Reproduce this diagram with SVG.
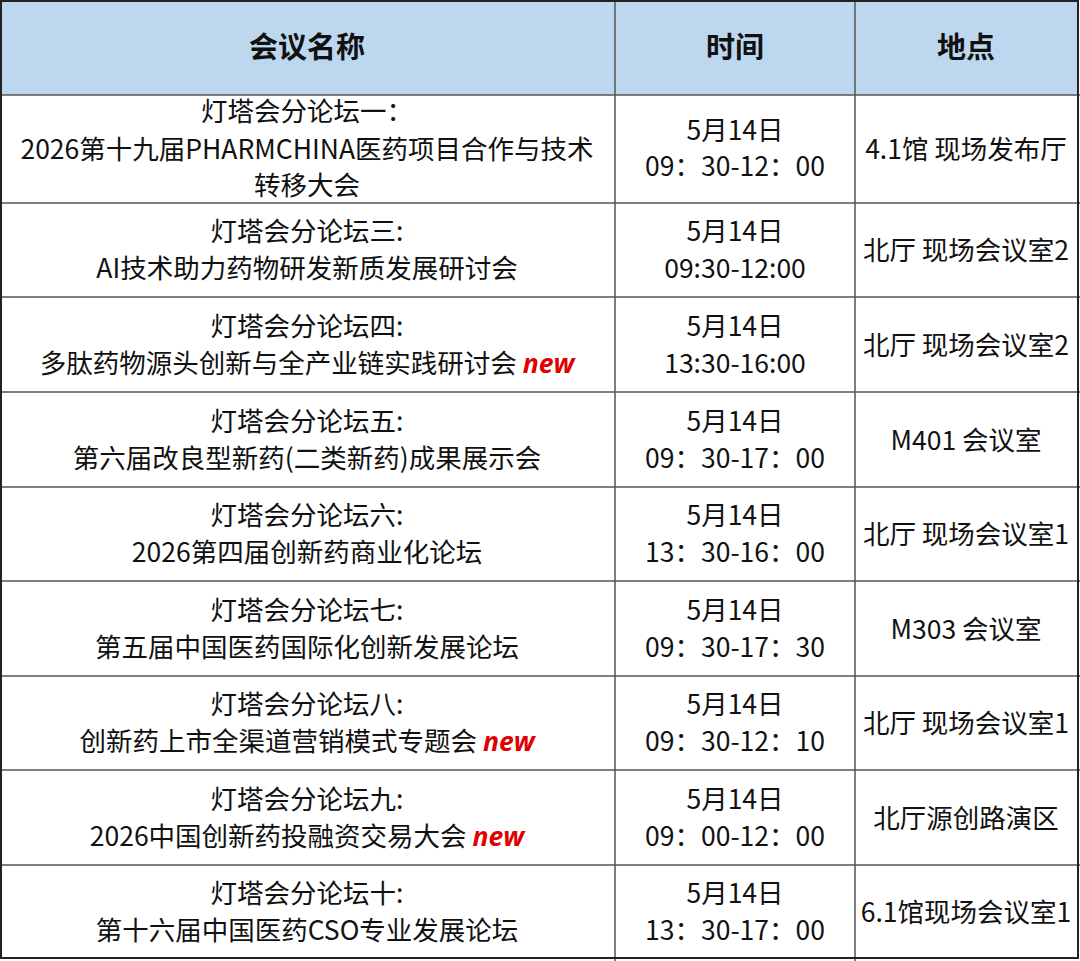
<svg xmlns="http://www.w3.org/2000/svg" width="1080" height="961" viewBox="0 0 1080 961">
<style>
text{font-family:"Microsoft YaHei","Noto Sans CJK SC","Noto Sans",sans-serif;font-size:26.5px;fill:#111;text-anchor:middle}
.h{font-weight:bold;font-size:29px}
.n{fill:#e00000;font-weight:bold;font-style:italic;font-family:"Open Sans","Noto Sans",sans-serif}
line{stroke:#555;stroke-width:1.5}
</style>
<rect x="0" y="0" width="1080" height="961" fill="#fff"/>
<rect x="1" y="1" width="1077" height="94" fill="#BDD7EE"/>
<g id="grid">
<line x1="0" y1="95" x2="1080" y2="95"/>
<line x1="0" y1="203" x2="1080" y2="203"/>
<line x1="0" y1="297" x2="1080" y2="297"/>
<line x1="0" y1="392" x2="1080" y2="392"/>
<line x1="0" y1="487" x2="1080" y2="487"/>
<line x1="0" y1="581" x2="1080" y2="581"/>
<line x1="0" y1="676" x2="1080" y2="676"/>
<line x1="0" y1="770" x2="1080" y2="770"/>
<line x1="0" y1="865" x2="1080" y2="865"/>
<line x1="615" y1="0" x2="615" y2="961"/>
<line x1="855" y1="0" x2="855" y2="961"/>
<rect x="1" y="1" width="1077" height="957" fill="none" stroke="#222" stroke-width="2"/>
</g>
<g id="header">
<text class="h" x="307" y="58">会议名称</text>
<text class="h" x="735" y="58">时间</text>
<text class="h" x="966" y="58">地点</text>
</g>
<g id="r1">
<text x="307" y="121">灯塔会分论坛一：</text>
<text x="307" y="159">2026第十九届PHARMCHINA医药项目合作与技术</text>
<text x="307" y="195">转移大会</text>
<text x="735" y="140">5月14日</text><text x="735" y="176">09：30-12：00</text>
<text x="966" y="159">4.1馆 现场发布厅</text>
</g>
<g id="r2">
<text x="307" y="241">灯塔会分论坛三:</text><text x="307" y="278">AI技术助力药物研发新质发展研讨会</text>
<text x="735" y="241">5月14日</text><text x="735" y="278">09:30-12:00</text>
<text x="966" y="260">北厅 现场会议室2</text>
</g>
<g id="r3">
<text x="307" y="336">灯塔会分论坛四:</text><text x="307" y="373">多肽药物源头创新与全产业链实践研讨会 <tspan class="n">new</tspan></text>
<text x="735" y="336">5月14日</text><text x="735" y="373">13:30-16:00</text>
<text x="966" y="355">北厅 现场会议室2</text>
</g>
<g id="r4">
<text x="307" y="431">灯塔会分论坛五:</text><text x="307" y="468">第六届改良型新药(二类新药)成果展示会</text>
<text x="735" y="431">5月14日</text><text x="735" y="468">09：30-17：00</text>
<text x="966" y="450">M401 会议室</text>
</g>
<g id="r5">
<text x="307" y="525">灯塔会分论坛六:</text><text x="307" y="562">2026第四届创新药商业化论坛</text>
<text x="735" y="525">5月14日</text><text x="735" y="562">13：30-16：00</text>
<text x="966" y="544">北厅 现场会议室1</text>
</g>
<g id="r6">
<text x="307" y="620">灯塔会分论坛七:</text><text x="307" y="657">第五届中国医药国际化创新发展论坛</text>
<text x="735" y="620">5月14日</text><text x="735" y="657">09：30-17：30</text>
<text x="966" y="639">M303 会议室</text>
</g>
<g id="r7">
<text x="307" y="714">灯塔会分论坛八:</text><text x="307" y="751">创新药上市全渠道营销模式专题会 <tspan class="n">new</tspan></text>
<text x="735" y="714">5月14日</text><text x="735" y="751">09：30-12：10</text>
<text x="966" y="733">北厅 现场会议室1</text>
</g>
<g id="r8">
<text x="307" y="809">灯塔会分论坛九:</text><text x="307" y="846">2026中国创新药投融资交易大会 <tspan class="n">new</tspan></text>
<text x="735" y="809">5月14日</text><text x="735" y="846">09：00-12：00</text>
<text x="966" y="828">北厅源创路演区</text>
</g>
<g id="r9">
<text x="307" y="903">灯塔会分论坛十:</text><text x="307" y="940">第十六届中国医药CSO专业发展论坛</text>
<text x="735" y="903">5月14日</text><text x="735" y="940">13：30-17：00</text>
<text x="966" y="922">6.1馆现场会议室1</text>
</g>
</svg>
